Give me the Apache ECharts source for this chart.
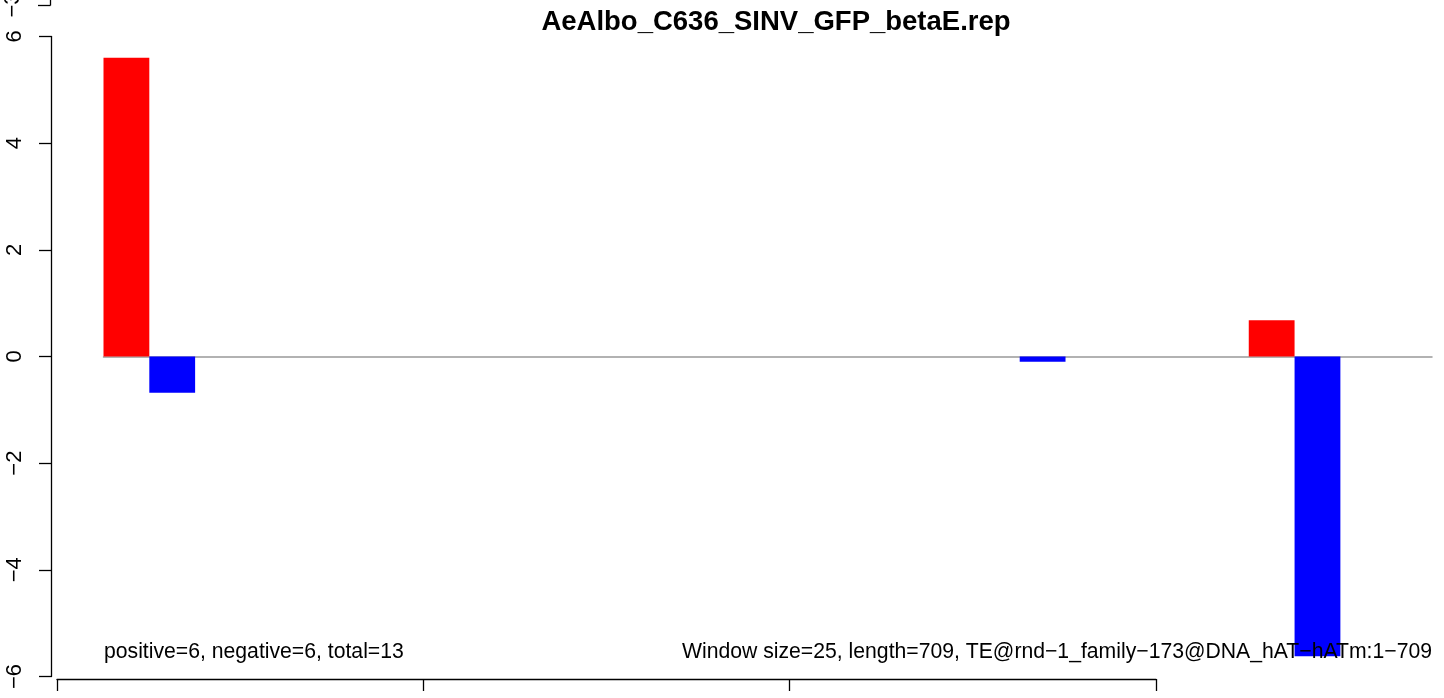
<!DOCTYPE html>
<html>
<head>
<meta charset="utf-8">
<script src="https://cdn.jsdelivr.net/npm/echarts@6/dist/echarts.min.js"></script>
<style>
  html, body { margin: 0; padding: 0; background: #fff; }
  #chart { width: 1444px; height: 698px; }
</style>
</head>
<body>
<div id="chart"></div>
<script>
// windows along the TE (window size 25, length 709 -> 29 slots)
var windows = ['1','2','3','4','5','6','7','8','9','10','11','12','13','14','15',
  '16','17','18','19','20','21','22','23','24','25','26','27','28','29'];
// positive strand (red) and negative strand (blue) values per slot
var posValues = [5.60,0,0,0,0,0,0,0,0,0,0,0,0,0,0,0,0,0,0,0,0,0,0,0,0,0.68,0,0,0];
var negValues = [0,-0.68,0,0,0,0,0,0,0,0,0,0,0,0,0,0,0,0,0,0,-0.10,0,0,0,0,0,-5.62,0,0];
// stray bottom axis ticks
var bottomTicks = [0, 1, 2, 3];

var titleText = 'AeAlbo_C636_SINV_GFP_betaE.rep';
var leftNote = 'positive=6, negative=6, total=13';
var rightNote = 'Window size=25, length=709, TE@rnd\u22121_family\u2212173@DNA_hAT\u2212hATm:1\u2212709';

var FONT = '"Liberation Sans", Arial, Helvetica, sans-serif';
var chart = echarts.init(document.getElementById('chart'));

var option = {
  animation: false,
  backgroundColor: '#fff',
  grid: [
    { left: 103.5, right: 12, top: 36.5, bottom: 21.5 },
    { left: 57, right: 288, top: 600, bottom: 19 }
  ],
  xAxis: [
    {
      type: 'category', gridIndex: 0, data: windows,
      boundaryGap: true,
      axisLine: { show: true, onZero: true, lineStyle: { color: '#999', width: 1.5 } },
      axisTick: { show: false }, axisLabel: { show: false }, splitLine: { show: false }
    },
    {
      type: 'value', gridIndex: 1,
      min: bottomTicks[0], max: bottomTicks[bottomTicks.length - 1], interval: 1,
      position: 'bottom',
      axisLine: { show: true, lineStyle: { color: '#000', width: 1.3 } },
      axisTick: { show: true, length: 12, lineStyle: { color: '#000', width: 1.3 } },
      axisLabel: { show: false }, splitLine: { show: false }
    }
  ],
  yAxis: [
    {
      type: 'value', gridIndex: 0, min: -6, max: 6, interval: 2,
      offset: 52.5,
      axisLine: { show: true, lineStyle: { color: '#000', width: 1.3 } },
      axisTick: { show: true, length: 12, lineStyle: { color: '#000', width: 1.3 } },
      axisLabel: {
        rotate: 90, margin: 25, color: '#000', fontSize: 22, fontFamily: FONT,
        formatter: function (v) { return String(v).replace('-', '\u2212'); }
      },
      splitLine: { show: false }
    },
    { type: 'value', gridIndex: 1, show: false, min: 0, max: 1 }
  ],
  series: [
    {
      name: 'positive', type: 'bar', xAxisIndex: 0, yAxisIndex: 0,
      stack: 'all', data: posValues, barCategoryGap: '0%',
      itemStyle: { color: '#ff0000' }, z: 3
    },
    {
      name: 'negative', type: 'bar', xAxisIndex: 0, yAxisIndex: 0,
      stack: 'all', data: negValues, barCategoryGap: '0%',
      itemStyle: { color: '#0000ff' }, z: 3
    }
  ],
  graphic: [
    {
      type: 'text', x: 776, y: 22, z: 10,
      style: { text: titleText, font: 'bold 27.5px ' + FONT, fill: '#000', align: 'center', verticalAlign: 'middle' }
    },
    // notes are drawn over the bars, as in the original
    {
      type: 'text', x: 104, y: 663, z: 10,
      style: { text: leftNote, font: '21.2px ' + FONT, fill: '#000', align: 'left', verticalAlign: 'bottom' }
    },
    {
      type: 'text', x: 1432, y: 663, z: 10,
      style: { text: rightNote, font: '21.2px ' + FONT, fill: '#000', align: 'right', verticalAlign: 'bottom' }
    },
    // stray piece of another axis at the very top-left
    { type: 'line', z: 10, shape: { x1: 50.5, y1: -2, x2: 50.5, y2: 5.5 }, style: { stroke: '#000', lineWidth: 1.3 } },
    { type: 'line', z: 10, shape: { x1: 38, y1: 5.5, x2: 50.5, y2: 5.5 }, style: { stroke: '#000', lineWidth: 1.3 } },
    {
      type: 'text', x: 13, y: 5, rotation: Math.PI / 2, z: 10,
      style: { text: '\u22123', font: '22px ' + FONT, fill: '#000', align: 'center', verticalAlign: 'middle' }
    }
  ]
};
chart.setOption(option);
</script>
</body>
</html>
